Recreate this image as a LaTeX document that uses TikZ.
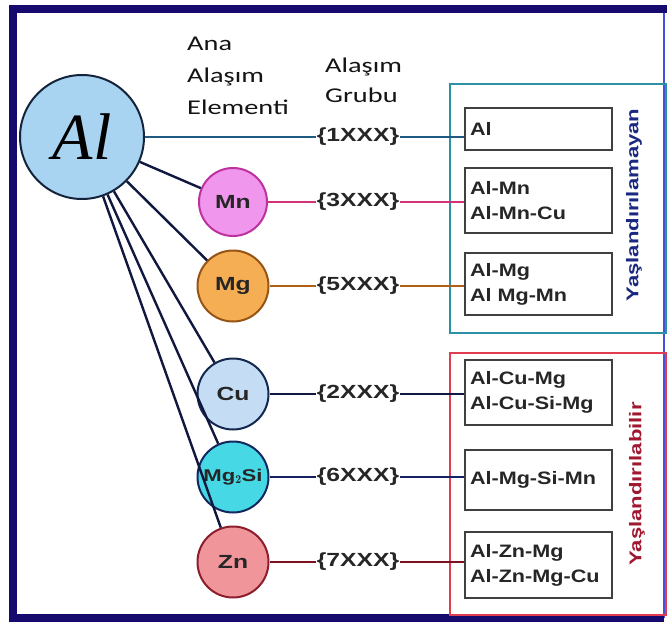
\documentclass[tikz,border=0pt]{standalone}
\usepackage{fontspec}
\newfontfamily\lblfont{Liberation Sans}[FakeStretch=1.3]
\newfontfamily\boxfont{Liberation Sans}[FakeStretch=1.2]
\newfontfamily\hdrfont{Carlito}[FakeStretch=1.35]
\newfontfamily\alfont{Liberation Serif}
\definecolor{framec}{RGB}{22,10,110}
\definecolor{framer}{RGB}{70,80,220}
\definecolor{alfill}{RGB}{168,212,242}
\definecolor{alborder}{RGB}{20,35,60}
\definecolor{mnfill}{RGB}{240,150,236}
\definecolor{mnborder}{RGB}{190,50,160}
\definecolor{mgfill}{RGB}{246,174,85}
\definecolor{mgborder}{RGB}{150,85,20}
\definecolor{cufill}{RGB}{196,221,244}
\definecolor{cuborder}{RGB}{20,40,80}
\definecolor{sifill}{RGB}{70,216,228}
\definecolor{siborder}{RGB}{20,40,96}
\definecolor{znfill}{RGB}{240,150,155}
\definecolor{znborder}{RGB}{140,30,45}
\definecolor{line1}{RGB}{30,90,130}
\definecolor{line3}{RGB}{210,50,120}
\definecolor{line5}{RGB}{176,96,20}
\definecolor{line2}{RGB}{16,24,64}
\definecolor{line6}{RGB}{20,32,96}
\definecolor{line7}{RGB}{128,16,32}
\definecolor{tealbox}{RGB}{45,145,165}
\definecolor{redbox}{RGB}{225,60,80}
\definecolor{navytxt}{RGB}{26,40,128}
\definecolor{redtxt}{RGB}{160,24,48}
\definecolor{hdrc}{RGB}{20,20,20}
\begin{document}
\begin{tikzpicture}[x=1pt,y=-1pt,
  elem/.style={circle, draw, line width=2pt, minimum size=71pt, inner sep=0pt,
    font=\lblfont\bfseries\fontsize{19}{19}\selectfont, text=black!85},
  grp/.style={inner sep=1pt, font=\lblfont\bfseries\fontsize{19}{19}\selectfont, text=black!85},
  ibox/.style={draw=black!75, line width=1.8pt, minimum width=147pt, text width=137pt,
    inner xsep=5pt, inner ysep=2pt, align=left, font=\boxfont\bfseries\fontsize{18}{25}\selectfont, text=black!85},
  conn/.style={line width=2.4pt},
  hdr/.style={anchor=north west, inner sep=0pt, align=left, text=hdrc},
  vlab/.style={rotate=90, inner sep=0pt, font=\lblfont\bfseries\fontsize{17}{17}\selectfont}
]
\useasboundingbox (0,0) rectangle (667,626);
\fill[white] (0,0) rectangle (667,626);

% outer frame
\draw[framer, line width=1.5pt] (664,9) -- (664,618);
\draw[framec, line width=8pt] (667,9) -- (13,9) -- (13,618) -- (664,618);

% group boxes
\node[draw=tealbox, line width=1.6pt, minimum width=216pt, minimum height=249pt, anchor=north west, inner sep=0pt] (nonage) at (449,83) {};
\node[draw=redbox, line width=1.6pt, minimum width=216pt, minimum height=262pt, anchor=north west, inner sep=0pt] (age) at (449,352) {};

% headers
\node[hdr, font=\hdrfont\fontsize{21}{32}\selectfont] (h1) at (187,36.5) {Ana\\Alaşım\\Elementi};
\node[hdr, font=\hdrfont\fontsize{21}{30}\selectfont] (h2) at (325,57.5) {Alaşım\\Grubu};

% Al circle
\node[circle, draw=alborder, fill=alfill, line width=2pt, minimum size=124pt, inner sep=0pt] (al) at (82,137)
  {\alfont\itshape\fontsize{66}{66}\selectfont Al};

% elements
\node[elem, draw=mnborder, fill=mnfill, minimum size=68pt] (mn) at (233,202) {Mn};
\node[elem, draw=mgborder, fill=mgfill] (mg) at (233,286) {Mg};
\node[elem, draw=cuborder, fill=cufill] (cu) at (233,394) {Cu};
\node[elem, draw=siborder, fill=sifill, font=\lblfont\bfseries\fontsize{17}{17}\selectfont] (si) at (233,477) {Mg$_{\mathbf 2}$Si};
\node[elem, draw=znborder, fill=znfill] (zn) at (233,562) {Zn};

% group labels
\node[grp] (g1) at (358,137) {\{1XXX\}};
\node[grp] (g3) at (358,202) {\{3XXX\}};
\node[grp] (g5) at (358,286) {\{5XXX\}};
\node[grp] (g2) at (358,394) {\{2XXX\}};
\node[grp] (g6) at (358,477) {\{6XXX\}};
\node[grp] (g7) at (358,562) {\{7XXX\}};

% inner boxes
\node[ibox, minimum height=42pt] (b1) at (538.5,129) {Al};
\node[ibox, minimum height=65pt] (b2) at (538.5,200.5) {Al-Mn\\Al-Mn-Cu};
\node[ibox, minimum height=62pt] (b3) at (538.5,284) {Al-Mg\\Al Mg-Mn};
\node[ibox, minimum height=65pt] (b4) at (538.5,392.5) {Al-Cu-Mg\\Al-Cu-Si-Mg};
\node[ibox, minimum height=60pt] (b5) at (538.5,480) {Al-Mg-Si-Mn};
\node[ibox, minimum height=66pt] (b6) at (538.5,565) {Al-Zn-Mg\\Al-Zn-Mg-Cu};

% vertical labels
\node[vlab, text=navytxt] (v1) at (634,205) {Yaşlandırılamayan};
\node[vlab, text=redtxt] (v2) at (637,484) {Yaşlandırılabilir};

% connectors Al -> elements
\draw[conn, line1] (al) -- (g1);
\draw[conn, line2] (al) -- (mn);
\draw[conn, line2] (al) -- (mg);
\draw[conn, line2] (al) -- (cu);
\draw[conn, line2] (al) -- (si);
\draw[conn, line2] (al) -- (zn);

% elements -> groups
\draw[conn, line3] (mn) -- (g3);
\draw[conn, line5] (mg) -- (g5);
\draw[conn, line2] (cu) -- (g2);
\draw[conn, line6] (si) -- (g6);
\draw[conn, line7] (zn) -- (g7);

% groups -> boxes
\draw[conn, line1] (g1.east) -- (g1.east -| b1.west);
\draw[conn, line3] (g3.east) -- (g3.east -| b2.west);
\draw[conn, line5] (g5.east) -- (g5.east -| b3.west);
\draw[conn, line2] (g2.east) -- (g2.east -| b4.west);
\draw[conn, line6] (g6.east) -- (g6.east -| b5.west);
\draw[conn, line7] (g7.east) -- (g7.east -| b6.west);
\end{tikzpicture}
\end{document}
